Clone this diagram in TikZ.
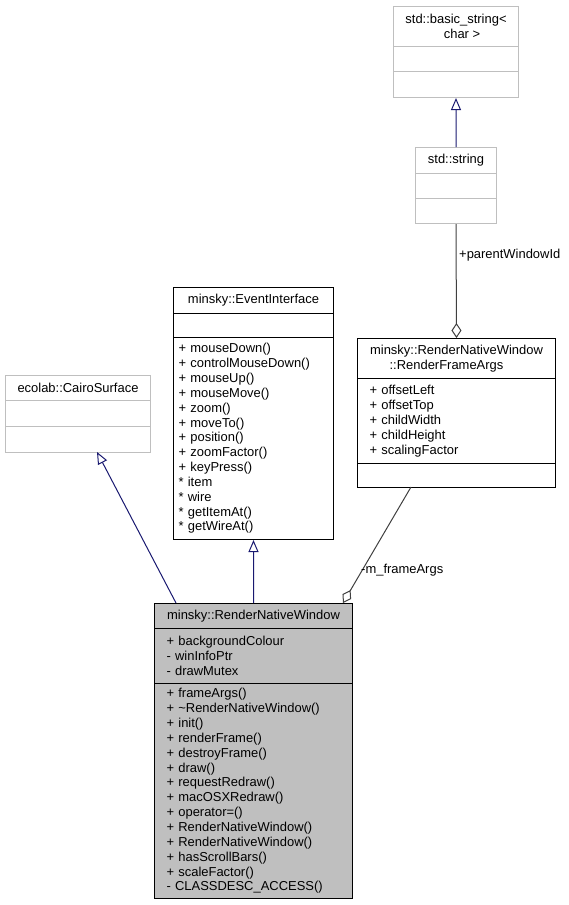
\documentclass[tikz,border=0pt]{standalone}
\usepackage{fontspec}
\setmainfont{Liberation Sans}
\usetikzlibrary{arrows.meta,calc}
\definecolor{greyS}{HTML}{BFBFBF}
\definecolor{greyF}{HTML}{BFBFBF}
\definecolor{midblue}{HTML}{191970}
\definecolor{greyE}{HTML}{404040}
\begin{document}
\begin{tikzpicture}[x=1bp,y=-1bp,
  font=\fontsize{13}{14.9}\selectfont,
  comp/.style={draw, rectangle, anchor=north west, inner ysep=0pt, inner xsep=0pt, line width=1bp},
  ext/.style={comp, draw=greyS},
  mem/.style={align=left},
  ttl/.style={align=center},
  inh/.style={draw=midblue, line width=1bp, -{Triangle[open, length=12bp, width=10bp]}},
  agg/.style={draw=greyE, line width=1bp, -{Diamond[open, length=15bp, width=10bp]}},
  lbl/.style={inner sep=0pt, anchor=west}
]
\useasboundingbox (0,0) rectangle (569,905);

% std::basic_string<char>
\node[ext, ttl, minimum width=125bp, minimum height=40bp] (bs1) at (393,6) {std::basic\_string<\\\hspace*{12bp}char >};
\node[ext, minimum width=125bp, minimum height=25bp] (bs2) at (393,46) {};
\node[ext, minimum width=125bp, minimum height=26bp] (bs3) at (393,71) {};

% std::string
\node[ext, minimum width=81bp, minimum height=26bp] (st1) at (415,147) {std::string};
\node[ext, minimum width=81bp, minimum height=25bp] (st2) at (415,173) {};
\node[ext, minimum width=81bp, minimum height=25bp] (st3) at (415,198) {};

% ecolab::CairoSurface
\node[ext, minimum width=145bp, minimum height=25bp] (cs1) at (5,375) {ecolab::CairoSurface};
\node[ext, minimum width=145bp, minimum height=26bp] (cs2) at (5,400) {};
\node[ext, minimum width=145bp, minimum height=26bp] (cs3) at (5,426) {};

% minsky::EventInterface
\node[comp, minimum width=160bp, minimum height=26bp] (ei1) at (173,287) {minsky::EventInterface};
\node[comp, minimum width=160bp, minimum height=24bp] (ei2) at (173,313) {};
\node[comp, mem, inner xsep=5bp, text width=150bp, minimum width=160bp, minimum height=202bp] (ei3) at (173,337) {%
+ mouseDown()\\
+ controlMouseDown()\\
+ mouseUp()\\
+ mouseMove()\\
+ zoom()\\
+ moveTo()\\
+ position()\\
+ zoomFactor()\\
+ keyPress()\\
{*} item\\
{*} wire\\
{*} getItemAt()\\
{*} getWireAt()};

% minsky::RenderNativeWindow::RenderFrameArgs
\node[comp, ttl, minimum width=198bp, minimum height=40bp] (rf1) at (357,338) {minsky::RenderNativeWindow\\::RenderFrameArgs\hspace*{20bp}};
\node[comp, mem, inner xsep=12bp, text width=174bp, minimum width=198bp, minimum height=85bp] (rf2) at (357,378) {%
+ offsetLeft\\
+ offsetTop\\
+ childWidth\\
+ childHeight\\
+ scalingFactor};
\node[comp, minimum width=198bp, minimum height=24bp] (rf3) at (357,463) {};

% minsky::RenderNativeWindow
\node[comp, fill=greyF, minimum width=198bp, minimum height=25bp] (rn1) at (154,603) {minsky::RenderNativeWindow};
\node[comp, fill=greyF, mem, inner xsep=12bp, text width=174bp, minimum width=198bp, minimum height=55bp] (rn2) at (154,628) {%
+ backgroundColour\\
- winInfoPtr\\
- drawMutex};
\node[comp, fill=greyF, mem, inner xsep=12bp, text width=174bp, minimum width=198bp, minimum height=215bp] (rn3) at (154,683) {%
+ frameArgs()\\
+ \textasciitilde RenderNativeWindow()\\
+ init()\\
+ renderFrame()\\
+ destroyFrame()\\
+ draw()\\
+ requestRedraw()\\
+ macOSXRedraw()\\
+ operator=()\\
+ RenderNativeWindow()\\
+ RenderNativeWindow()\\
+ hasScrollBars()\\
+ scaleFactor()\\
- CLASSDESC\_ACCESS()};

% connector end points
\coordinate (rnA) at (176,603);
\coordinate (csA) at (97,452);
\coordinate (rfB) at (411,487);
\coordinate (rnB) at (343,603);

% inheritance
\draw[inh] (st1.north) -- (bs3.south);
\draw[inh] (rnA) -- (csA);
\draw[inh] (rn1.north) -- (ei3.south);

% aggregation
\draw[agg] (st3.south) -- (rf1.north);
\draw[agg] (rfB) -- (rnB);

% labels
\node[lbl] (l1) at (459,255) {+parentWindowId};
\node[lbl] (l2) at (361,570) {-m\_frameArgs};
\end{tikzpicture}
\end{document}
